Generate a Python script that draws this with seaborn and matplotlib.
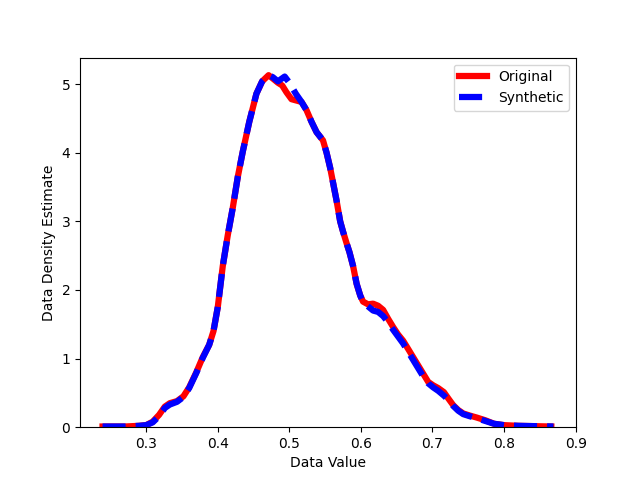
import pandas as pd
import matplotlib
matplotlib.use('Agg')
import matplotlib.pyplot as plt
import seaborn as sns

# Density curves
orig_x = [0.239, 0.270, 0.290, 0.300, 0.309, 0.318, 0.326, 0.333, 0.343, 0.352,
          0.360, 0.370, 0.379, 0.388, 0.394, 0.400, 0.407, 0.414, 0.421, 0.428,
          0.435, 0.444, 0.454, 0.462, 0.471, 0.477, 0.484, 0.490, 0.496, 0.503,
          0.510, 0.517, 0.524, 0.531, 0.538, 0.547, 0.552, 0.557, 0.566, 0.571,
          0.575, 0.580, 0.584, 0.589, 0.594, 0.599, 0.603, 0.610, 0.617, 0.624,
          0.631, 0.638, 0.645, 0.652, 0.659, 0.666, 0.673, 0.680, 0.687, 0.694,
          0.701, 0.708, 0.716, 0.722, 0.729, 0.736, 0.743, 0.752, 0.762, 0.774,
          0.786, 0.800, 0.820, 0.866]
orig_y = [0.01, 0.01, 0.02, 0.03, 0.08, 0.18, 0.30, 0.35, 0.38, 0.45,
          0.58, 0.80, 1.02, 1.20, 1.40, 1.75, 2.35, 2.80, 3.20, 3.65,
          4.02, 4.45, 4.86, 5.04, 5.13, 5.08, 5.02, 4.98, 4.88, 4.78,
          4.76, 4.74, 4.62, 4.45, 4.30, 4.18, 4.00, 3.78, 3.30, 3.00,
          2.85, 2.68, 2.55, 2.35, 2.09, 1.92, 1.83, 1.79, 1.80, 1.77,
          1.71, 1.58, 1.46, 1.35, 1.26, 1.14, 1.02, 0.90, 0.78, 0.66,
          0.61, 0.57, 0.51, 0.42, 0.32, 0.25, 0.20, 0.17, 0.14, 0.10,
          0.05, 0.03, 0.02, 0.01]

synth_x = [0.239, 0.270, 0.290, 0.300, 0.309, 0.318, 0.326, 0.333, 0.343, 0.352,
           0.360, 0.370, 0.379, 0.388, 0.394, 0.400, 0.407, 0.414, 0.421, 0.428,
           0.435, 0.444, 0.454, 0.462, 0.471, 0.477, 0.484, 0.4935, 0.500, 0.509,
           0.517, 0.524, 0.531, 0.538, 0.547, 0.552, 0.557, 0.566, 0.571,
           0.575, 0.580, 0.584, 0.589, 0.594, 0.599, 0.603, 0.610, 0.617, 0.624,
           0.631, 0.638, 0.645, 0.652, 0.659, 0.666, 0.673, 0.680, 0.687, 0.694,
           0.701, 0.708, 0.716, 0.722, 0.729, 0.736, 0.743, 0.752, 0.762, 0.774,
           0.786, 0.800, 0.820, 0.869]
synth_y = [0.01, 0.01, 0.02, 0.03, 0.07, 0.16, 0.28, 0.33, 0.37, 0.44,
           0.57, 0.79, 1.01, 1.20, 1.40, 1.75, 2.35, 2.80, 3.20, 3.65,
           4.02, 4.45, 4.86, 5.04, 5.13, 5.10, 5.04, 5.11, 5.02, 4.86,
           4.74, 4.62, 4.45, 4.30, 4.18, 4.00, 3.78, 3.30, 3.00,
           2.85, 2.68, 2.55, 2.35, 2.09, 1.92, 1.82, 1.76, 1.70, 1.68,
           1.62, 1.53, 1.42, 1.32, 1.22, 1.10, 0.98, 0.86, 0.74, 0.64,
           0.58, 0.53, 0.46, 0.40, 0.31, 0.24, 0.19, 0.16, 0.13, 0.09,
           0.05, 0.03, 0.02, 0.01]

df = pd.concat([
    pd.DataFrame({'Data Value': orig_x, 'Density': orig_y, 'Source': 'Original'}),
    pd.DataFrame({'Data Value': synth_x, 'Density': synth_y, 'Source': 'Synthetic'}),
])

fig, ax = plt.subplots(figsize=(6.4, 4.8), dpi=100)
sns.lineplot(data=df[df['Source'] == 'Original'], x='Data Value', y='Density',
             color='red', linewidth=4.5, estimator=None, label='Original',
             solid_joinstyle='round', ax=ax)
sns.lineplot(data=df[df['Source'] == 'Synthetic'], x='Data Value', y='Density',
             color='blue', linewidth=4.5, linestyle='--', estimator=None,
             label='Synthetic', dash_joinstyle='round', ax=ax)
ax.set_ylim(bottom=0)
ax.set_xlabel('Data Value')
ax.set_ylabel('Data Density Estimate')
ax.legend(loc='upper right')
plt.savefig('out.png', dpi=100)
